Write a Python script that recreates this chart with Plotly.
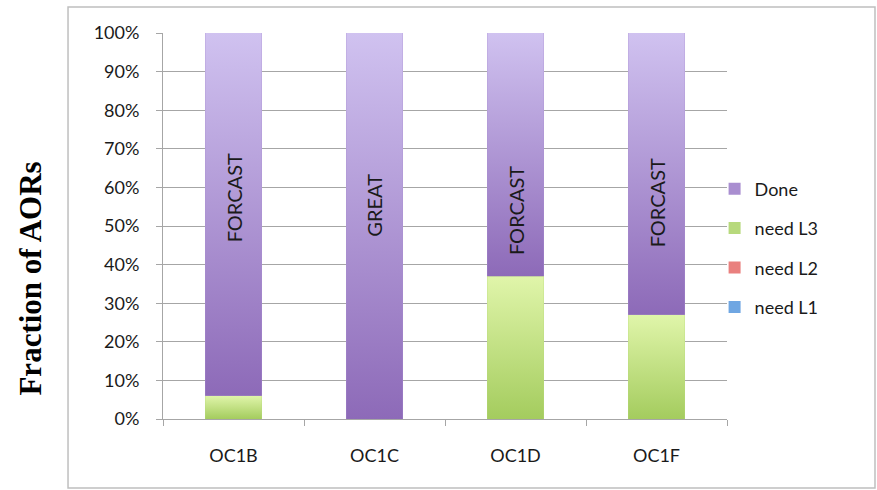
import plotly.graph_objects as go

# Fraction of AORs per operational cycle, by review status
categories = ["OC1B", "OC1C", "OC1D", "OC1F"]
need_l1 = [0.00, 0.00, 0.00, 0.00]
need_l2 = [0.00, 0.00, 0.00, 0.00]
need_l3 = [0.06, 0.00, 0.37, 0.27]
done = [0.94, 1.00, 0.63, 0.73]

bar_notes = ["FORCAST", "GREAT", "FORCAST", "FORCAST"]
note_y = [0.573, 0.554, 0.54, 0.56]

y_ticks = [i / 10 for i in range(11)]

series = [
    # name, values, flat colour (legend), gradient bottom, gradient top, legend rank
    ("need L1", need_l1, "#6FA6E2", "#4F86C6", "#A9CBF2", 4),
    ("need L2", need_l2, "#E9807E", "#C9504F", "#F4B1AF", 3),
    ("need L3", need_l3, "#B7D97C", "#A4CC5E", "#E0F5AA", 2),
    ("Done", done, "#A98ED0", "#8D6AB8", "#D0C2F0", 1),
]

FONT = "Lato"
BAR_W = 0.4
x_pos = list(range(len(categories)))

fig = go.Figure()

# Stacked bars (flat colours; also provide the legend swatches)
for name, vals, flat, _, _, rank in series:
    fig.add_trace(go.Bar(
        x=x_pos, y=vals, name=name, width=BAR_W,
        marker=dict(color=flat, line=dict(width=0)),
        legendgroup=name, legendrank=rank, hoverinfo="skip",
    ))

# Vertical gradient fill laid over every non-empty segment
base = [0.0] * len(categories)
for name, vals, flat, c_bot, c_top, _ in series:
    for i, v in enumerate(vals):
        if v > 0:
            y0, y1 = base[i], base[i] + v
            x0, x1 = x_pos[i] - BAR_W / 2, x_pos[i] + BAR_W / 2
            fig.add_trace(go.Scatter(
                x=[x0, x1, x1, x0, x0], y=[y0, y0, y1, y1, y0],
                mode="lines", line=dict(width=0), fill="toself",
                fillgradient=dict(type="vertical",
                                  colorscale=[[0, c_bot], [1, c_top]]),
                showlegend=False, hoverinfo="skip",
            ))
        base[i] += v

# Vertical notes written inside the bars
for i, txt in enumerate(bar_notes):
    fig.add_annotation(
        x=x_pos[i], y=note_y[i], text=txt, textangle=-90,
        showarrow=False, font=dict(family=FONT, size=20, color="#1a1a1a"),
        xanchor="center", yanchor="middle",
    )

# Axis title on the left, outside the framed chart
fig.add_annotation(
    x=-0.235, y=0.365, xref="paper", yref="paper",
    text="<b>Fraction of AORs</b>", textangle=-90, showarrow=False,
    font=dict(family="Liberation Serif", size=31, color="#000000"),
    xanchor="center", yanchor="middle",
)

# Chart frame
fig.add_shape(
    type="rect", xref="paper", yref="paper",
    x0=-0.1684, x1=1.2624, y0=-0.1788, y1=1.0674,
    line=dict(color="#BFBFBF", width=1.5), fillcolor="rgba(0,0,0,0)",
    layer="below",
)

fig.update_layout(
    width=877, height=490,
    margin=dict(l=163, r=150, t=33, b=71),
    barmode="stack",
    bargap=0.6,
    paper_bgcolor="white", plot_bgcolor="white",
    font=dict(family=FONT, size=18, color="#1a1a1a"),
    showlegend=True,
    legend=dict(
        x=0.978, y=0.443, xanchor="left", yanchor="middle",
        traceorder="grouped", tracegroupgap=13,
        font=dict(family=FONT, size=18, color="#1a1a1a"),
        itemwidth=30, bgcolor="rgba(0,0,0,0)",
    ),
    xaxis=dict(
        range=[-0.5, len(categories) - 0.5],
        tickvals=x_pos, ticktext=categories, ticks="",
        showgrid=False, zeroline=False,
        showline=True, linecolor="#A6A6A6", linewidth=1,
        ticklabelstandoff=20,
        tickfont=dict(family=FONT, size=18, color="#1a1a1a"),
        minor=dict(tickvals=[i - 0.5 for i in range(len(categories) + 1)],
                   ticks="outside", ticklen=6, tickcolor="#A6A6A6",
                   tickwidth=1, showgrid=False),
    ),
    yaxis=dict(
        range=[0, 1], tickvals=y_ticks, tickformat=".0%",
        showgrid=True, gridcolor="#A6A6A6", gridwidth=1,
        zeroline=False, showline=True, linecolor="#A6A6A6", linewidth=1,
        ticks="outside", ticklen=6, tickcolor="#A6A6A6",
        ticklabelstandoff=13,
        tickfont=dict(family=FONT, size=18, color="#1a1a1a"),
    ),
)

fig.write_html("out.html")
